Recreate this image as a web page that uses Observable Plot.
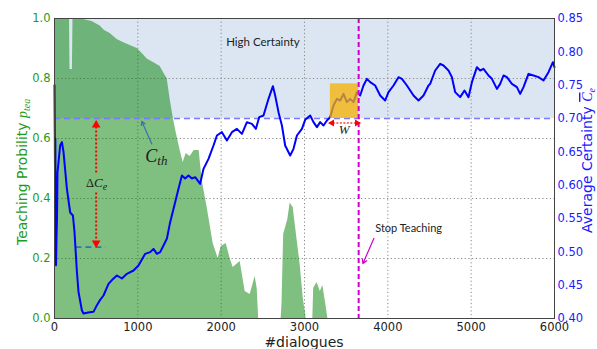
<!DOCTYPE html>
<html><head><meta charset="utf-8">
<script src="https://cdn.jsdelivr.net/npm/d3@7"></script>
<script src="https://cdn.jsdelivr.net/npm/@observablehq/plot@0.6"></script>
<style>html,body{margin:0;padding:0;background:#fff;} svg{display:block;}</style>
</head><body><div id="chart"></div>
<script>
// ---- data ----
const teachD = [0,180,186,190,215,222,225,300,450,548,600,668,752,824,908,992,1064,1112,1208,1268,1328,1352,1388,1424,1460,1508,1544,1580,1628,1676,1736,1772,1832,1904,1964,2000,2060,2108,2144,2228,2288,2348,2408,2432,2450,2720,2730,2750,2800,2828,2864,2912,2948,2984,3020,3100,3110,3150,3190,3220,3260,3280,6000];
const teachP = [1,1,0.83,0.83,0.83,1,1,1,0.99,0.975,0.96,0.95,0.93,0.92,0.91,0.9,0.88,0.865,0.85,0.84,0.81,0.8,0.73,0.67,0.62,0.56,0.52,0.55,0.54,0.56,0.56,0.46,0.37,0.25,0.2,0.24,0.25,0.2,0.17,0.19,0.09,0.08,0.14,0.1,0,0,0.05,0.28,0.33,0.385,0.37,0.26,0.18,0.07,0,0,0.1,0.12,0.09,0.11,0.04,0,0];

const certD = [0,6,10,14,18,24,30,36,68,89,108,149,188,221,240,269,288,329,348,404,468,509,548,588,648,692,749,809,869,948,1008,1088,1148,1188,1229,1268,1308,1349,1388,1448,1488,1529,1568,1608,1649,1688,1748,1788,1848,1908,1949,2009,2069,2129,2189,2249,2309,2369,2417,2456,2508,2568,2621,2648,2688,2729,2768,2828,2868,2909,2969,3008,3068,3108,3149,3188,3228,3269,3308,3348,3389,3428,3468,3509,3548,3588,3629,3668,3708,3749,3788,3848,3908,3968,4008,4068,4128,4169,4229,4308,4368,4428,4488,4508,4568,4628,4668,4728,4769,4808,4868,4920,4968,5009,5069,5108,5148,5208,5249,5309,5348,5388,5429,5489,5549,5588,5628,5688,5748,5808,5868,5928,5981,6000];
const certC = [0.75,0.62,0.67,0.50,0.48,0.52,0.55,0.619,0.6595,0.6645,0.65,0.5945,0.559,0.5545,0.53,0.47,0.44,0.412,0.4075,0.409,0.41,0.42,0.428,0.4345,0.452,0.458,0.4645,0.46,0.467,0.472,0.4795,0.497,0.4995,0.5045,0.497,0.4995,0.5095,0.52,0.5445,0.5745,0.5945,0.6145,0.61,0.6145,0.61,0.612,0.602,0.6245,0.6395,0.6595,0.6745,0.6795,0.667,0.6795,0.6845,0.677,0.6945,0.692,0.6845,0.702,0.7045,0.7295,0.7485,0.7345,0.7095,0.6895,0.6595,0.6445,0.6545,0.6745,0.6845,0.698,0.7045,0.6945,0.687,0.6945,0.6895,0.697,0.702,0.7195,0.7295,0.727,0.737,0.7245,0.7295,0.7245,0.7395,0.7345,0.7495,0.7595,0.7545,0.7495,0.7345,0.727,0.7395,0.7495,0.762,0.7595,0.7495,0.7345,0.727,0.7345,0.7495,0.752,0.772,0.782,0.7795,0.772,0.762,0.7395,0.732,0.742,0.732,0.7545,0.777,0.772,0.7745,0.7645,0.7595,0.7445,0.752,0.7645,0.762,0.752,0.747,0.737,0.747,0.767,0.7645,0.762,0.757,0.7695,0.7845,0.777];

const xTicks = [0,1000,2000,3000,4000,5000,6000];
const pTicks = [0,0.2,0.4,0.6,0.8,1.0];
const cTicks = [0.40,0.45,0.50,0.55,0.60,0.65,0.70,0.75,0.80,0.85];
const cMin = 0.40, cMax = 0.85;
const cTh = 0.70;          // certainty threshold
const winStart = 3310;     // start of window W
const stopAt = 3650;       // stop teaching
const winTop = 0.752;      // top of window box (certainty)
const deltaLow = 0.507;    // lower level of ΔC_e
const deltaSpan = [257, 620];
const deltaAt = 500;

// ---- build ----
const cy = c => (c - cMin) / (cMax - cMin);   // certainty -> left-axis units
const teach = teachD.map((d, i) => ({d, p: teachP[i]}));
const cert = certD.map((d, i) => ({d, c: certC[i]}));
const green = "#1e9c1e", blue = "#1a1aff";

const plot = Plot.plot({
  width: 597, height: 349,
  marginLeft: 54, marginRight: 43, marginTop: 18, marginBottom: 31,
  style: {fontFamily: "DejaVu Sans", background: "#fff", overflow: "visible"},
  x: {domain: [0, 6000]},
  y: {domain: [0, 1]},
  marks: [
    Plot.rect([{x1: 0, x2: 6000, lo: cTh, hi: cMax}], {x1: "x1", x2: "x2", y1: d => cy(d.lo), y2: d => cy(d.hi), fill: "#dce6f2"}),
    Plot.gridX(xTicks.slice(1, -1), {stroke: "#888", strokeOpacity: 1, strokeDasharray: "1.2,2.5"}),
    Plot.gridY(pTicks.slice(1, -1), {stroke: "#888", strokeOpacity: 1, strokeDasharray: "1.2,2.5"}),
    Plot.areaY(teach, {x: "d", y: "p", fill: "#008000", fillOpacity: 0.5}),
    Plot.ruleY([cTh], {y: d => cy(d), stroke: "#7a7aff", strokeWidth: 1.6, strokeDasharray: "6,4"}),
    Plot.ruleY([{x1: deltaSpan[0], x2: deltaSpan[1], c: deltaLow}], {x1: "x1", x2: "x2", y: d => cy(d.c), stroke: "#2a78c0", strokeWidth: 1.8, strokeDasharray: "6,4"}),
    Plot.line(cert, {x: "d", y: d => cy(d.c), stroke: "#0000ff", strokeWidth: 2}),
    Plot.rect([{x1: winStart, x2: stopAt, lo: cTh, hi: winTop}], {x1: "x1", x2: "x2", y1: d => cy(d.lo), y2: d => cy(d.hi), fill: "#f5b000", fillOpacity: 0.75}),
    Plot.ruleX([stopAt], {stroke: "#cc00cc", strokeWidth: 2, strokeDasharray: "5,3"}),
    // ΔC_e red dotted double arrow
    Plot.link([{x: deltaAt, a: 0.487, b: 0.64}, {x: deltaAt, a: 0.42, b: 0.26}], {x1: "x", x2: "x", y1: "a", y2: "b", stroke: "red", strokeWidth: 2, strokeDasharray: "2,2"}),
    Plot.dot([{x: deltaAt, y: 0.645, r: 0}, {x: deltaAt, y: 0.252, r: 180}], {x: "x", y: "y", rotate: "r", symbol: "triangle", r: 3.2, fill: "red", stroke: null}),
    // W arrow
    Plot.link([{a: winStart + 30, b: stopAt - 30, y: 0.652}], {x1: "a", x2: "b", y1: "y", y2: "y", stroke: "#ff4040", strokeWidth: 1.5, strokeDasharray: "2,1.5"}),
    Plot.dot([{x: winStart + 20, y: 0.652, r: -90}, {x: stopAt - 20, y: 0.652, r: 90}], {x: "x", y: "y", rotate: "r", symbol: "triangle", r: 2.6, fill: "red", stroke: null}),
    // arrows
    Plot.arrow([{x1: 3832, y1: 0.267, x2: 3701, y2: 0.183}], {x1: "x1", y1: "y1", x2: "x2", y2: "y2", stroke: "#cc00cc", strokeWidth: 1.2, headLength: 6}),
    Plot.arrow([{x1: 1168, y1: 0.582, x2: 1048, y2: 0.657}], {x1: "x1", y1: "y1", x2: "x2", y2: "y2", stroke: "#3b6fb6", strokeWidth: 1.2, headLength: 5}),
    // texts
    Plot.text([{x: 2060, y: 0.92, t: "High Certainty"}], {x: "x", y: "y", text: "t", textAnchor: "start", fontSize: 11.5, fontFamily: "Lato", fill: "#222"}),
    Plot.text([{x: 3848, y: 0.30, t: "Stop Teaching"}], {x: "x", y: "y", text: "t", textAnchor: "start", fontSize: 11, fontFamily: "Lato", fill: "#222"}),
    Plot.text([{x: 3476, y: 0.63, t: "W"}], {x: "x", y: "y", text: "t", fontSize: 13, fontStyle: "italic", fontFamily: "Liberation Serif", fill: "#222"}),
    Plot.frame({stroke: "#444"}),
    Plot.axisX(xTicks, {tickSize: 0, tickPadding: 4, tickFormat: d3.format("d"), fontSize: 11.5, label: null, fill: "#222"}),
    Plot.axisY(pTicks, {anchor: "left", tickSize: 0, tickPadding: 4, tickFormat: d3.format(".1f"), fill: green, fontSize: 11.5, label: null}),
    Plot.axisY(cTicks.map(cy), {anchor: "right", tickSize: 0, tickPadding: 3, tickFormat: v => d3.format(".2f")(cMin + v * (cMax - cMin)), fill: blue, fontSize: 11.5, label: null})
  ]
});
document.getElementById("chart").append(plot);

// rich-text labels positioned through the plot's own scales
const sx = plot.scale("x"), sy = plot.scale("y");
const svg = d3.select(plot);
function rich(x, y, parts, opts = {}) {
  const t = svg.append("text").attr("x", x).attr("y", y)
    .attr("text-anchor", opts.anchor || "middle")
    .attr("fill", opts.fill || "#222");
  if (opts.transform) t.attr("transform", opts.transform).attr("x", 0).attr("y", 0);
  for (const p of parts) {
    const s = t.append("tspan").text(p.t)
      .style("font-family", p.ff || "DejaVu Sans")
      .style("font-size", p.fs + "px")
      .style("font-style", p.it ? "italic" : "normal");
    if (p.dy) s.attr("dy", p.dy);
    if (p.deco) s.style("text-decoration", p.deco);
  }
  return t;
}
// C_th
rich(sx.apply(1229), sy.apply(0.54) + 6, [
  {t: "C", fs: 18, it: true, ff: "Liberation Serif"},
  {t: "th", fs: 13, it: true, ff: "Liberation Serif", dy: 3}
]);
// ΔC_e
rich(sx.apply(510), sy.apply(0.45) + 4, [
  {t: "Δ", fs: 12.5, ff: "Liberation Serif"},
  {t: "C", fs: 13, it: true, ff: "Liberation Serif"},
  {t: "e", fs: 10, it: true, ff: "Liberation Serif", dy: 3}
]);
// x title
rich(304, 346.5, [{t: "#dialogues", fs: 14}]);
// left title
rich(0, 0, [
  {t: "Teaching Probility ", fs: 14},
  {t: "p", fs: 14, it: true, ff: "Liberation Serif"},
  {t: "tea", fs: 10, it: true, ff: "Liberation Serif", dy: 3}
], {anchor: "start", fill: green, transform: "translate(27,245) rotate(-90)"});
// right title
rich(0, 0, [
  {t: "Average Certainty ", fs: 14},
  {t: "C", fs: 14, it: true, ff: "Liberation Serif", deco: "overline"},
  {t: "e", fs: 10, it: true, ff: "Liberation Serif", dy: 3}
], {anchor: "start", fill: blue, transform: "translate(592,233) rotate(-90)"});
</script>
</body></html>
